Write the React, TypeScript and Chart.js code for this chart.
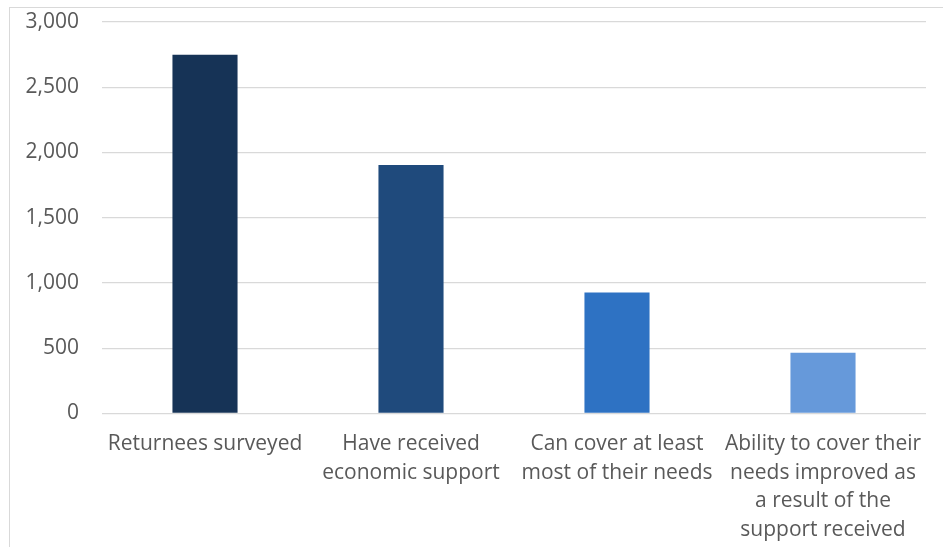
import React, { useEffect, useRef } from "react";
import { Chart, registerables } from "chart.js";

Chart.register(...registerables);

const categories: (string | string[])[] = [
  "Returnees surveyed",
  ["Have received", "economic support"],
  ["Can cover at least", "most of their needs"],
  ["Ability to cover their", "needs improved as", "a result of the", "support received"],
];
const values = [2750, 1905, 928, 466];
const barColors = ["#163356", "#1F4A7C", "#2E72C3", "#6699DA"];
const yMin = 0;
const yMax = 3000;
const yStep = 500;

export default function App() {
  const ref = useRef<HTMLCanvasElement | null>(null);
  useEffect(() => {
    if (!ref.current) return;
    const font = { family: "'Open Sans', sans-serif", size: 21, lineHeight: 1.37 };
    const chart = new Chart(ref.current, {
      type: "bar",
      data: {
        labels: categories,
        datasets: [
          {
            data: values,
            backgroundColor: barColors,
            barPercentage: 0.316,
            categoryPercentage: 1,
          },
        ],
      },
      options: {
        animation: false,
        responsive: false,
        maintainAspectRatio: false,
        layout: { padding: { top: 14, right: 10, left: 0, bottom: 0 } },
        plugins: { legend: { display: false }, tooltip: { enabled: false } },
        scales: {
          x: {
            grid: { display: false, drawTicks: false },
            border: { display: false },
            ticks: { color: "#595959", font, padding: 16, maxRotation: 0, autoSkip: false },
            afterFit: (s: any) => {
              s.height = 134.5;
              s.paddingLeft = 0;
              s.paddingRight = 0;
            },
          },
          y: {
            min: yMin,
            max: yMax,
            grid: { color: "#d9d9d9", lineWidth: 1.3, drawTicks: false },
            border: { display: false },
            ticks: {
              stepSize: yStep,
              color: "#595959",
              font,
              padding: 23,
              callback: (v: any) => Number(v).toLocaleString("en-US"),
            },
            afterFit: (s: any) => {
              s.width = 92;
              s.paddingTop = 0;
              s.paddingBottom = 0;
            },
          },
        },
      },
    });
    return () => chart.destroy();
  }, []);
  return (
    <div
      style={{
        position: "fixed",
        left: 9,
        top: 7,
        width: 980,
        height: 560,
        border: "1px solid #d9d9d9",
        background: "#fff",
      }}
    >
      <canvas ref={ref} width={926} height={540} style={{ display: "block" }} />
    </div>
  );
}
